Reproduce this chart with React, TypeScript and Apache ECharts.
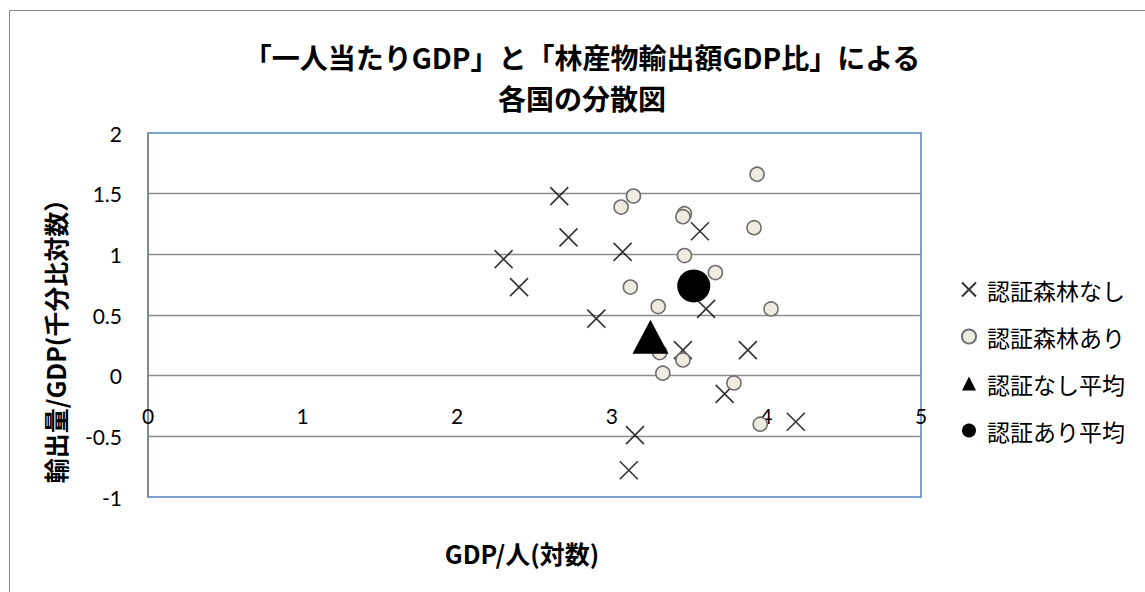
import React, { useEffect, useRef } from "react";
import * as echarts from "echarts";

// 認証森林なし (no certified forest)
const noCertX = [2.66, 2.72, 2.3, 2.4, 3.07, 2.9, 3.57, 3.61, 3.46, 3.88, 3.73, 3.15, 3.11, 4.19];
const noCertY = [1.48, 1.14, 0.96, 0.73, 1.02, 0.47, 1.19, 0.55, 0.21, 0.21, -0.15, -0.49, -0.78, -0.38];

// 認証森林あり (certified forest)
const certX = [3.94, 3.14, 3.06, 3.47, 3.46, 3.92, 3.47, 3.67, 3.12, 3.3, 4.03, 3.31, 3.46, 3.33, 3.79, 3.96];
const certY = [1.66, 1.48, 1.39, 1.335, 1.31, 1.22, 0.99, 0.85, 0.73, 0.57, 0.55, 0.19, 0.13, 0.02, -0.06, -0.4];

// averages
const noCertAvg = [3.25, 0.32];
const certAvg = [3.53, 0.74];

const seriesNames = ["認証森林なし", "認証森林あり", "認証なし平均", "認証あり平均"];
const titleLines = ["「一人当たりGDP」と「林産物輸出額GDP比」による", "各国の分散図"];
const xAxisTitle = "GDP/人(対数)";
const yAxisTitle = "輸出量/GDP(千分比対数）";

const FONT = "Lato, 'Noto Sans CJK JP', sans-serif";
const CJK_FONT = "'Noto Sans CJK JP', sans-serif";

const zip = (xs: number[], ys: number[]) => xs.map((x, i) => [x, ys[i]]);

export default function App() {
  const ref = useRef<HTMLDivElement>(null);
  useEffect(() => {
    if (!ref.current) return;
    const chart = echarts.init(ref.current, undefined, { renderer: "svg" });
    const option: any = {
      animation: false,
      backgroundColor: "#ffffff",
      textStyle: { fontFamily: FONT },
      grid: {
        left: 148,
        top: 133,
        right: 224,
        bottom: 95,
        show: true,
        borderColor: "#4F81BD",
        borderWidth: 1.5,
        backgroundColor: "transparent",
      },
      xAxis: {
        type: "value",
        min: 0,
        max: 5,
        interval: 1,
        axisLine: { show: false, onZero: false },
        axisTick: { show: false },
        axisLabel: { margin: -92, fontSize: 21, color: "#000", fontFamily: FONT },
        splitLine: { show: false },
      },
      yAxis: {
        type: "value",
        min: -1,
        max: 2,
        interval: 0.5,
        axisLine: { show: true, onZero: false, lineStyle: { color: "#868686", width: 1.5 } },
        axisTick: { show: false },
        axisLabel: { margin: 26, fontSize: 21, color: "#000", fontFamily: FONT },
        splitLine: {
          show: true,
          showMinLine: false,
          showMaxLine: false,
          lineStyle: { color: "#8C8C8C", width: 1.3 },
        },
      },
      legend: {
        orient: "vertical",
        left: 956,
        top: 273,
        itemWidth: 14,
        itemHeight: 14,
        itemGap: 24,
        textStyle: { fontSize: 23, color: "#000", fontFamily: CJK_FONT, padding: [0, 0, 0, 6] },
        data: seriesNames,
      },
      series: [
        {
          name: seriesNames[0],
          type: "scatter",
          symbol: "path://M0,0L10,10M10,0L0,10",
          symbolSize: 18,
          itemStyle: { color: "rgba(0,0,0,0)", borderColor: "#000", borderWidth: 1.6 },
          data: zip(noCertX, noCertY),
          z: 2,
        },
        {
          name: seriesNames[1],
          type: "scatter",
          symbol: "circle",
          symbolSize: 14,
          itemStyle: { color: "#EEECE1", borderColor: "#6E6E6E", borderWidth: 1.6, opacity: 1 },
          data: zip(certX, certY),
          z: 3,
        },
        {
          name: seriesNames[2],
          type: "scatter",
          symbol: "triangle",
          symbolSize: [36, 34],
          itemStyle: { color: "#000", opacity: 1 },
          data: [noCertAvg],
          z: 4,
        },
        {
          name: seriesNames[3],
          type: "scatter",
          symbol: "circle",
          symbolSize: 33,
          itemStyle: { color: "#000", opacity: 1 },
          data: [certAvg],
          z: 5,
        },
      ],
      graphic: [
        {
          type: "rect",
          silent: true,
          z: -10,
          shape: { x: 9.5, y: 10.5, width: 1400, height: 800 },
          style: { fill: "none", stroke: "#868686", lineWidth: 1 },
        },
        {
          type: "text",
          x: 582,
          y: 57,
          style: {
            text: titleLines[0],
            align: "center",
            verticalAlign: "middle",
            fontSize: 28,
            fontWeight: "bold",
            fontFamily: CJK_FONT,
            fill: "#000",
          },
        },
        {
          type: "text",
          x: 582,
          y: 98,
          style: {
            text: titleLines[1],
            align: "center",
            verticalAlign: "middle",
            fontSize: 28,
            fontWeight: "bold",
            fontFamily: CJK_FONT,
            fill: "#000",
          },
        },
        {
          type: "text",
          x: 522,
          y: 553,
          style: {
            text: xAxisTitle,
            align: "center",
            verticalAlign: "middle",
            fontSize: 25,
            fontWeight: "bold",
            fontFamily: CJK_FONT,
            fill: "#000",
          },
        },
        {
          type: "text",
          x: 55,
          y: 335,
          rotation: Math.PI / 2,
          style: {
            text: yAxisTitle,
            align: "center",
            verticalAlign: "middle",
            fontSize: 25,
            fontWeight: "bold",
            fontFamily: CJK_FONT,
            fill: "#000",
          },
        },
      ],
    };
    chart.setOption(option);
    return () => chart.dispose();
  }, []);
  return (
    <div
      ref={ref}
      style={{ position: "fixed", left: 0, top: 0, width: 1145, height: 592, background: "#fff" }}
    />
  );
}
